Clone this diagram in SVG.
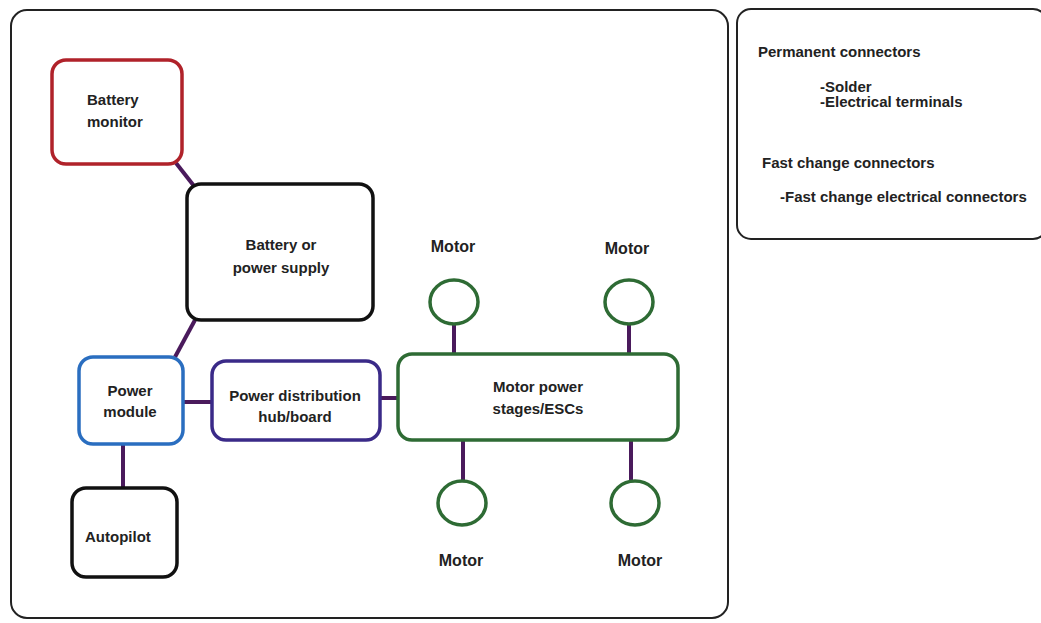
<svg xmlns="http://www.w3.org/2000/svg" width="1041" height="623" viewBox="0 0 1041 623">
<style>
text{font-family:"Liberation Sans",Arial,sans-serif;font-weight:bold;font-size:15px;fill:#222}
.frame{fill:#fff;stroke:#222;stroke-width:2}
.node{fill:#fff;stroke-width:3.5}
.conn{stroke:#4a1a5c;stroke-width:4;fill:none}
.c{text-anchor:middle}
.m{font-size:16px}
</style>
<rect width="1041" height="623" fill="#fff"/>
<rect id="main-frame" class="frame" x="11" y="10" width="717" height="608" rx="16"/>
<g id="legend">
<rect class="frame" x="737" y="9" width="310" height="230" rx="14"/>
<text x="758" y="57">Permanent connectors</text>
<text x="820" y="92">-Solder</text>
<text x="820" y="107">-Electrical terminals</text>
<text x="762" y="168">Fast change connectors</text>
<text x="780" y="202">-Fast change electrical connectors</text>
</g>
<g id="connectors">
<line class="conn" x1="176" y1="163" x2="194" y2="186"/>
<line class="conn" x1="195" y1="320" x2="175" y2="357"/>
<line class="conn" x1="183" y1="402" x2="212" y2="402"/>
<line class="conn" x1="380" y1="398" x2="398" y2="398"/>
<line class="conn" x1="123" y1="444" x2="123" y2="487"/>
<line class="conn" x1="454" y1="324" x2="454" y2="353"/>
<line class="conn" x1="629" y1="324" x2="629" y2="353"/>
<line class="conn" x1="463" y1="440" x2="463" y2="481"/>
<line class="conn" x1="631" y1="440" x2="631" y2="481"/>
</g>
<g id="battery-monitor">
<rect class="node" x="52" y="60" width="130" height="104" rx="14" stroke="#b0222a"/>
<text x="87" y="105">Battery</text>
<text x="87" y="127">monitor</text>
</g>
<g id="battery">
<rect class="node" x="187" y="184" width="186" height="136" rx="14" stroke="#111"/>
<text class="c" x="281" y="250">Battery or</text>
<text class="c" x="281" y="273">power supply</text>
</g>
<g id="power-module">
<rect class="node" x="79" y="357" width="104" height="87" rx="14" stroke="#2a6ec0"/>
<text class="c" x="130" y="396">Power</text>
<text class="c" x="130" y="417">module</text>
</g>
<g id="pdh">
<rect class="node" x="212" y="361" width="168" height="79" rx="14" stroke="#3a2a88"/>
<text class="c" x="295" y="401">Power distribution</text>
<text class="c" x="295" y="422">hub/board</text>
</g>
<g id="autopilot">
<rect class="node" x="72" y="488" width="105" height="89" rx="14" stroke="#111"/>
<text x="85" y="542">Autopilot</text>
</g>
<g id="esc">
<rect class="node" x="398" y="354" width="280" height="86" rx="14" stroke="#2e6b34"/>
<text class="c" x="538" y="392">Motor power</text>
<text class="c" x="538" y="414">stages/ESCs</text>
</g>
<g id="motor-tl">
<ellipse class="node" cx="454" cy="302" rx="24" ry="22" stroke="#2e6b34"/>
<text class="c m" x="453" y="252">Motor</text>
</g>
<g id="motor-tr">
<ellipse class="node" cx="629" cy="302" rx="24" ry="22" stroke="#2e6b34"/>
<text class="c m" x="627" y="254">Motor</text>
</g>
<g id="motor-bl">
<ellipse class="node" cx="462" cy="503" rx="24" ry="22" stroke="#2e6b34"/>
<text class="c m" x="461" y="566">Motor</text>
</g>
<g id="motor-br">
<ellipse class="node" cx="635" cy="503" rx="24" ry="22" stroke="#2e6b34"/>
<text class="c m" x="640" y="566">Motor</text>
</g>
</svg>
